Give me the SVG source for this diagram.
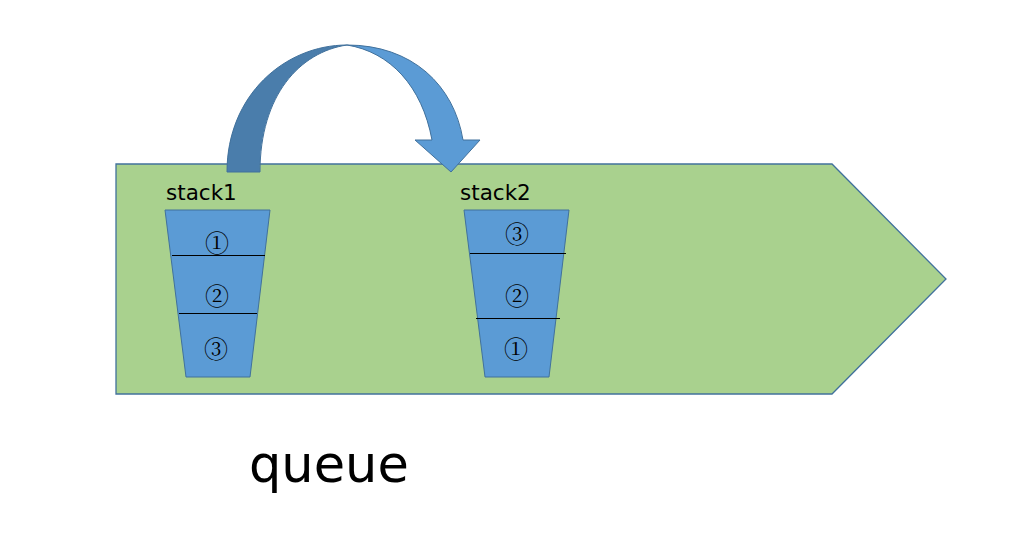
<svg xmlns="http://www.w3.org/2000/svg" width="1015" height="548" viewBox="0 0 1015 548">
<style>
.lbl{font-family:"DejaVu Sans","Liberation Sans",sans-serif;fill:#000}
.num{font-family:"DejaVu Serif","Noto Serif CJK JP","Noto Sans CJK JP",serif;font-size:24px;fill:#000;text-anchor:middle;dominant-baseline:central}
.cup{fill:#5B9BD5;stroke:#41719C;stroke-width:1}
.sep{stroke:#000;stroke-width:1.2}
</style>
<rect width="1015" height="548" fill="#fff"/>
<g id="queue">
<polygon points="116,164 832,164 946,279 832,394 116,394" fill="#A9D18E" stroke="#41719C" stroke-width="1.3"/>
<text class="lbl" x="249" y="482" font-size="51">queue</text>
</g>
<g id="connectors">
<path d="M227,172 C227,95 285,45 347,45 C300,52 260,95 260,172 Z" fill="#4A7DAB" stroke="#41719C" stroke-width="1"/>
<path d="M347,45 C412,45 454,85 463,140 L480,140 L451,172 L415,140 L432,140 C422,86 390,52 347,45 Z" fill="#5B9BD5" stroke="#41719C" stroke-width="1"/>
</g>
<g id="stack1">
<text class="lbl" x="166" y="200" font-size="21.5">stack1</text>
<polygon class="cup" points="165,210 270,210 250,377 186,377"/>
<line class="sep" x1="172" y1="255.5" x2="265" y2="255.5"/>
<line class="sep" x1="179" y1="313.5" x2="257" y2="313.5"/>
<text class="num" x="217" y="243.5">①</text>
<text class="num" x="217" y="296.5">②</text>
<text class="num" x="216" y="349.5">③</text>
</g>
<g id="stack2">
<text class="lbl" x="460" y="200" font-size="21.5">stack2</text>
<polygon class="cup" points="464,210 569,210 549,377 485,377"/>
<line class="sep" x1="470" y1="253.5" x2="566" y2="253.5"/>
<line class="sep" x1="476" y1="318.5" x2="560" y2="318.5"/>
<text class="num" x="517" y="234.5">③</text>
<text class="num" x="517" y="296.5">②</text>
<text class="num" x="516" y="349.5">①</text>
</g>
</svg>
